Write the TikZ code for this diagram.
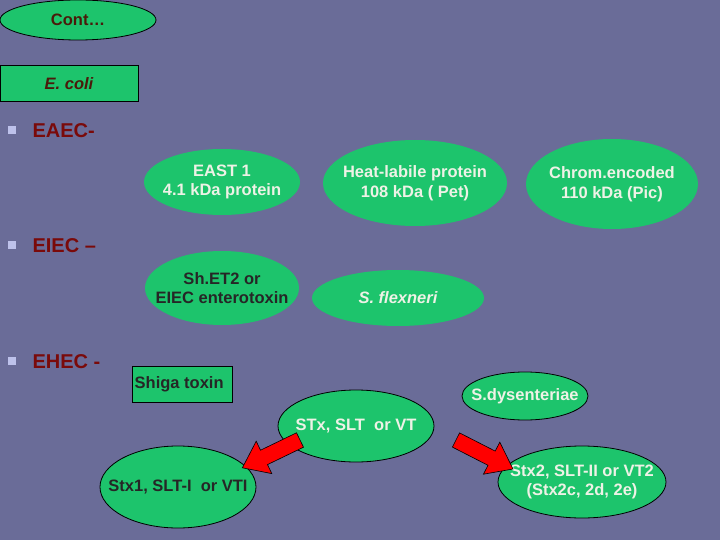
\documentclass[tikz,border=0pt]{standalone}
\usepackage{fontspec}
\setmainfont{Liberation Sans}
\usetikzlibrary{shapes.geometric}
\definecolor{bg}{HTML}{6A6C98}
\definecolor{gr}{HTML}{1DC46C}
\definecolor{lt}{HTML}{EEF2E6}
\definecolor{mar}{HTML}{7A0A0A}
\definecolor{br}{HTML}{4A1A0A}
\begin{document}
\begin{tikzpicture}[x=1pt,y=-1pt,
  ell/.style={ellipse,fill=gr,inner sep=0pt},
  txt/.style={align=center,inner sep=0pt,font=\bfseries\fontsize{16.5}{19.5}\selectfont},
  bord/.style={draw=black,line width=0.8pt},
  box/.style={rectangle,fill=gr,draw=black,line width=1pt,inner sep=0pt},
  bul/.style={fill=lt!80!blue,minimum size=8pt,inner sep=0pt},
  hd/.style={anchor=west,text=mar,font=\bfseries\fontsize{20}{22}\selectfont},
  redarr/.style={fill=red,draw=black,line width=0.6pt}]
\fill[bg] (0,0) rectangle (720,540);
\useasboundingbox (0,0) rectangle (720,540);
\node[ell,bord,minimum width=156,minimum height=40] (cont) at (78,20) {};
\node[txt,text=br] (contt) at (cont.center) {Cont\ldots};
\node[box,minimum width=138,minimum height=36,text=br,font=\bfseries\itshape\fontsize{16.5}{19}\selectfont] (ecoli) at (69,84) {E. coli};
\node[bul] (b1) at (12,130) {};
\node[hd] (eaec) at (29,131) {EAEC-};
\node[bul] (b2) at (12,245) {};
\node[hd] (eiec) at (29,246) {EIEC –};
\node[bul] (b3) at (12,361) {};
\node[hd] (ehec) at (29,362) {EHEC -};
\node[ell,minimum width=156,minimum height=66] (east) at (222,182) {};
\node[txt,text=lt] (eastt) at (east.center) {EAST 1\\4.1 kDa protein};
\node[ell,minimum width=184,minimum height=86] (heat) at (415,183) {};
\node[txt,text=lt] (heatt) at (heat.center) {Heat-labile protein\\108 kDa ( Pet)};
\node[ell,minimum width=172,minimum height=90] (chrom) at (612,184) {};
\node[txt,text=lt] (chromt) at (chrom.center) {Chrom.encoded\\110 kDa (Pic)};
\node[ell,minimum width=154,minimum height=74] (sh) at (222,288) {};
\node[txt,text=black!85] (sht) at (sh.center) {Sh.ET2 or\\EIEC enterotoxin};
\node[ell,minimum width=172,minimum height=56] (flex) at (398,298) {};
\node[txt,text=lt,font=\bfseries\itshape\fontsize{16.5}{19}\selectfont] (flext) at (flex.center) {S. flexneri};
\node[box,minimum width=100,minimum height=36] (shiga) at (182,384) {};
\node[txt,text=black!85,anchor=west] (shigat) at ([xshift=3pt]shiga.west) {Shiga toxin};
\node[ell,bord,minimum width=126,minimum height=48] (dys) at (525,396) {};
\node[txt,text=lt] (dyst) at (dys.center) {S.dysenteriae};
\node[ell,bord,minimum width=156,minimum height=72] (stx) at (356,426) {};
\node[txt,text=lt] (stxt) at (stx.center) {STx, SLT\ \ or VT};
\node[ell,bord,minimum width=156,minimum height=82] (stx1) at (178,487) {};
\node[txt,text=black!85] (stx1t) at (stx1.center) {Stx1, SLT-I\ \ or VTI};
\node[ell,bord,minimum width=168,minimum height=72] (stx2) at (582,482) {};
\node[txt,text=lt] (stx2t) at (stx2.center) {Stx2, SLT-II or VT2\\(Stx2c, 2d, 2e)};
\draw[redarr] (303.5,447.2) -- (267.5,464.6) -- (271.8,473.6) -- (242.4,467.8) -- (256.2,441.2) -- (260.5,450.2) -- (296.5,432.8) -- cycle;
\draw[redarr] (452.4,447.1) -- (488,465.3) -- (483.4,474.2) -- (513,469) -- (499.8,442.2) -- (495.2,451.1) -- (459.6,432.9) -- cycle;
\end{tikzpicture}
\end{document}
